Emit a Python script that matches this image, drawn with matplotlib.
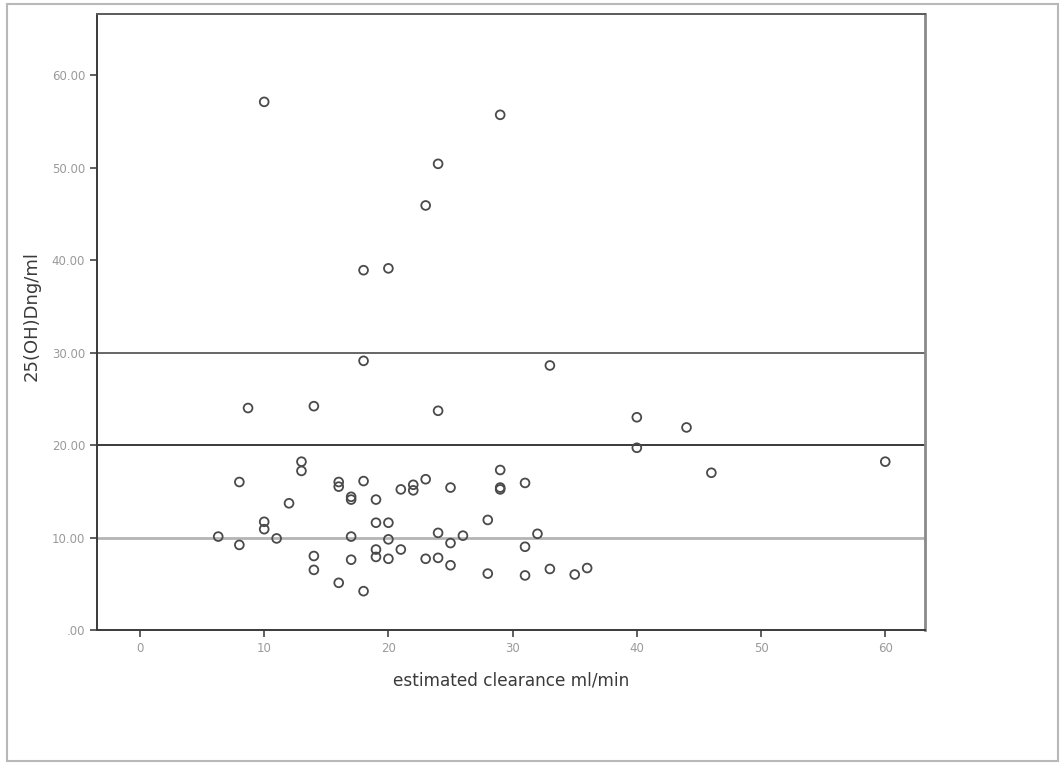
import matplotlib.pyplot as plt
from matplotlib.patches import Rectangle

# estimated clearance (ml/min) against 25(OH)D (ng/ml), one point per patient
clearance = [10, 29, 24, 23, 18, 20, 18, 33, 8.7, 14, 24, 40, 44, 40, 46, 60,
             13, 13, 8, 16, 16, 18, 23, 21, 22, 22, 25, 17, 17, 12, 19,
             10, 10, 19, 20, 28, 6.3, 11, 17, 24, 26, 8, 20, 25, 21, 19,
             19, 14, 17, 20, 23, 24, 25, 14, 28, 16, 18,
             29, 29, 29, 31, 32, 31, 31, 33, 35, 36]
vitd = [57.1, 55.7, 50.4, 45.9, 38.9, 39.1, 29.1, 28.6, 24.0, 24.2, 23.7, 23.0, 21.9, 19.7, 17.0, 18.2,
        18.2, 17.2, 16.0, 16.0, 15.5, 16.1, 16.3, 15.2, 15.7, 15.1, 15.4, 14.4, 14.1, 13.7, 14.1,
        11.7, 10.9, 11.6, 11.6, 11.9, 10.1, 9.9, 10.1, 10.5, 10.2, 9.2, 9.8, 9.4, 8.7, 8.7,
        7.9, 8.0, 7.6, 7.7, 7.7, 7.8, 7.0, 6.5, 6.1, 5.1, 4.2,
        17.3, 15.4, 15.2, 15.9, 10.4, 9.0, 5.9, 6.6, 6.0, 6.7]

# reference levels drawn across the plot
ref_levels = [10, 20, 30]
ref_colors = ['#b4b4b4', '#2a2a2a', '#5a5a5a']
ref_widths = [2.0, 1.3, 1.3]

x_ticks = [0, 10, 20, 30, 40, 50, 60]
y_ticks = [0, 10, 20, 30, 40, 50, 60]
y_labels = ['.00', '10.00', '20.00', '30.00', '40.00', '50.00', '60.00']

fig = plt.figure(figsize=(10.61, 7.65), dpi=100)
fig.patches.append(Rectangle((7 / 1061, 4 / 765), 1051 / 1061, 757 / 765,
                             transform=fig.transFigure, fill=False,
                             edgecolor='#b8b8b8', linewidth=1.5))

ax = fig.add_axes([97 / 1061, 135 / 765, 828 / 1061, 616 / 765])

for level, color, width in zip(ref_levels, ref_colors, ref_widths):
    ax.axhline(level, color=color, linewidth=width, zorder=1)

ax.scatter(clearance, vitd, s=40, facecolors='none', edgecolors='#4a4a4a',
           linewidths=1.3, zorder=3)

ax.set_xlim(-3.46, 63.2)
ax.set_ylim(0, 66.6)
ax.set_xticks(x_ticks)
ax.set_yticks(y_ticks)
ax.set_yticklabels(y_labels)
ax.tick_params(axis='both', direction='out', length=5, width=1.2, color='#444444',
               labelcolor='#9a9a9a', labelsize=8.5)

for side in ['left', 'bottom']:
    ax.spines[side].set_color('#3a3a3a')
    ax.spines[side].set_linewidth(1.4)
ax.spines['top'].set_color('#5a5a5a')
ax.spines['top'].set_linewidth(1.4)
ax.spines['right'].set_color('#8a8a8a')
ax.spines['right'].set_linewidth(2.0)

ax.set_xlabel('estimated clearance ml/min', fontsize=12.2, color='#3a3a3a', labelpad=12)
ax.set_ylabel('25(OH)Dng/ml', fontsize=13, color='#3a3a3a')
ax.yaxis.set_label_coords(-0.068, 0.51)

fig.savefig('out.png', dpi=100)
